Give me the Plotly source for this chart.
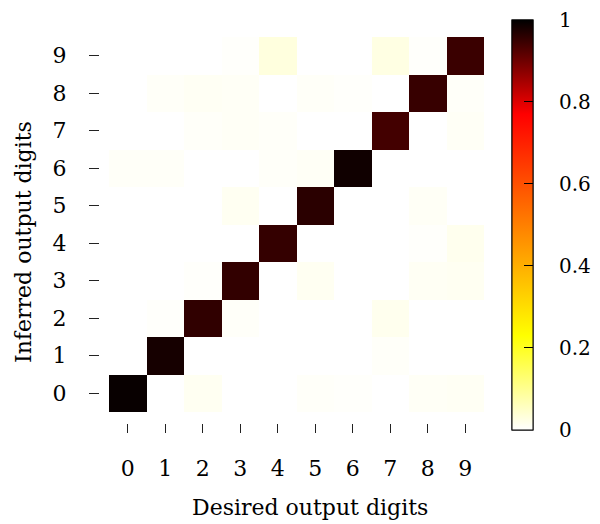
import plotly.graph_objects as go

desired = [0, 1, 2, 3, 4, 5, 6, 7, 8, 9]
inferred = [0, 1, 2, 3, 4, 5, 6, 7, 8, 9]
tick_text = ["0", "1", "2", "3", "4", "5", "6", "7", "8", "9"]

# z[inferred][desired]
z = [
    [0.993, 0.000, 0.012, 0.000, 0.000, 0.005, 0.004, 0.000, 0.008, 0.010],  # 0
    [0.000, 0.980, 0.000, 0.000, 0.000, 0.000, 0.000, 0.005, 0.000, 0.000],  # 1
    [0.000, 0.004, 0.957, 0.005, 0.000, 0.000, 0.000, 0.015, 0.000, 0.000],  # 2
    [0.000, 0.000, 0.004, 0.955, 0.000, 0.012, 0.000, 0.000, 0.010, 0.012],  # 3
    [0.000, 0.000, 0.000, 0.000, 0.953, 0.000, 0.000, 0.000, 0.004, 0.015],  # 4
    [0.000, 0.000, 0.000, 0.012, 0.000, 0.962, 0.000, 0.000, 0.008, 0.000],  # 5
    [0.006, 0.006, 0.000, 0.000, 0.005, 0.008, 0.986, 0.000, 0.000, 0.000],  # 6
    [0.000, 0.000, 0.005, 0.008, 0.005, 0.000, 0.000, 0.940, 0.000, 0.008],  # 7
    [0.000, 0.006, 0.010, 0.008, 0.000, 0.006, 0.004, 0.000, 0.950, 0.005],  # 8
    [0.000, 0.000, 0.000, 0.004, 0.030, 0.000, 0.000, 0.025, 0.004, 0.948],  # 9
]

cb_ticks = [0, 0.2, 0.4, 0.6, 0.8, 1]
cb_labels = ["0", "0.2", "0.4", "0.6", "0.8", "1"]

colorscale = [
    [0.0, "rgb(255,255,255)"],
    [0.23, "rgb(255,255,0)"],
    [0.77, "rgb(255,0,0)"],
    [1.0, "rgb(0,0,0)"],
]

FONT = "DejaVu Serif"
FS = 22

cb_common = dict(
    thickness=21,
    lenmode="pixels",
    len=410,
    x=1.073,
    xanchor="left",
    xpad=0,
    y=0.513,
    yanchor="middle",
    ypad=0,
    outlinecolor="black",
    outlinewidth=1,
)

fig = go.Figure()
fig.add_trace(go.Heatmap(
    x=desired, y=inferred, z=z,
    zmin=0, zmax=1,
    colorscale=colorscale,
    hoverinfo="skip",
    colorbar=dict(
        **cb_common,
        tickvals=cb_ticks,
        ticktext=cb_labels,
        ticks="outside",
        ticklen=22,
        tickcolor="rgba(0,0,0,0)",
        ticklabeloverflow="allow",
        tickfont=dict(family=FONT, size=20, color="black"),
    ),
))
# tick marks drawn inside the colour bar
fig.add_trace(go.Scatter(
    x=[None], y=[None], mode="markers",
    marker=dict(color=[0], cmin=0, cmax=1, colorscale=colorscale, showscale=True,
                colorbar=dict(**cb_common, tickvals=cb_ticks[1:-1], ticks="inside",
                              ticklen=9, tickcolor="black", tickwidth=1,
                              showticklabels=False)),
    showlegend=False, hoverinfo="skip",
))

# the page body adds an 8px margin, so the figure is 8px smaller than the window
fig.update_layout(
    width=592, height=516,
    margin=dict(l=92, r=116, t=29, b=101, autoexpand=False),
    paper_bgcolor="white",
    plot_bgcolor="white",
    font=dict(family=FONT, size=FS, color="black"),
    showlegend=False,
    xaxis=dict(
        range=[-0.74, 9.5],
        tickvals=desired, ticktext=tick_text,
        ticks="outside", ticklen=9, tickwidth=1, tickcolor="#222",
        ticklabelstandoff=17,
        showgrid=False, zeroline=False, showline=False,
        tickfont=dict(family=FONT, size=FS),
    ),
    yaxis=dict(
        range=[-0.793, 9.5],
        tickvals=inferred, ticktext=tick_text,
        ticks="outside", ticklen=10, tickwidth=1, tickcolor="#222",
        ticklabelstandoff=18,
        showgrid=False, zeroline=False, showline=False,
        tickfont=dict(family=FONT, size=FS),
    ),
    annotations=[
        dict(text="Desired output digits", xref="paper", yref="paper",
             x=(310 - 100) / 384, y=(423 - 508) / 386, xanchor="center", yanchor="middle",
             showarrow=False, font=dict(family=FONT, size=FS)),
        dict(text="Inferred output digits", xref="paper", yref="paper",
             x=(23 - 100) / 384, y=(423 - 242) / 386, xanchor="center", yanchor="middle",
             textangle=-90, showarrow=False, font=dict(family=FONT, size=FS)),
    ],
)

fig.write_html("out.html")
